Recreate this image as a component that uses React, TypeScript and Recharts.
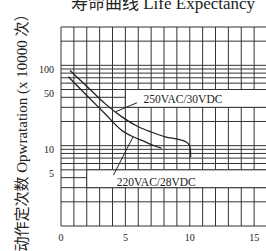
import { LineChart, Line, XAxis, YAxis, CartesianGrid, ReferenceArea } from "recharts";

const xTicks = [0, 1, 2, 3, 4, 5, 6, 7, 8, 9, 10, 11, 12, 13, 14, 15, 16];
const xLabels = [0, 5, 10, 15];
const yTicks = [1, 2, 3, 4, 5, 6, 7, 8, 9, 10, 20, 30, 40, 50, 60, 70, 80, 90, 100, 200, 300];
const yLabels = [5, 10, 50, 100];

// 250VAC/30VDC curve
const curve250 = [
  { x: 0.7, v: 86 },
  { x: 2.1, v: 53 },
  { x: 3.4, v: 33.6 },
  { x: 4.7, v: 23 },
  { x: 6, v: 17.2 },
  { x: 7, v: 14.8 },
  { x: 8.1, v: 12.9 },
  { x: 9.2, v: 11.9 },
  { x: 9.7, v: 11.2 },
  { x: 9.95, v: 10.2 },
  { x: 10.05, v: 8.8 },
  { x: 10.07, v: 7.2 },
];

// 220VAC/28VDC curve
const curve220 = [
  { x: 0.57, v: 72 },
  { x: 2.1, v: 40.6 },
  { x: 3.4, v: 25.2 },
  { x: 4.7, v: 15.6 },
  { x: 5.6, v: 12.9 },
  { x: 6.5, v: 11.2 },
  { x: 7.3, v: 9.9 },
  { x: 7.8, v: 9.3 },
];

const leader250 = [
  { x: 5.9, v: 34.2 },
  { x: 4.25, v: 26.5 },
];
const leader220 = [
  { x: 4.07, v: 4.3 },
  { x: 5.6, v: 12.9 },
];

const INK = "#222";
const GRID = "#333";
const SERIF = "'Liberation Serif', 'Times New Roman', 'Noto Sans CJK SC', serif";

const XTick = (props: any) => {
  const { x, y, payload } = props;
  if (!xLabels.includes(payload.value)) return null;
  return (
    <text x={x} y={y} dy="0.71em" textAnchor="middle" fontSize={10} fontFamily={SERIF} fill={INK}>
      {payload.value}
    </text>
  );
};

const YTick = (props: any) => {
  const { y, payload } = props;
  if (!yLabels.includes(payload.value)) return null;
  return (
    <text x={54} y={y + 4} dy="0.35em" textAnchor="end" fontSize={10} fontFamily={SERIF} fill={INK}>
      {payload.value}
    </text>
  );
};

export default function App() {
  return (
    <div style={{ position: "absolute", left: 0, top: 0, width: 266, height: 251, overflow: "hidden", background: "#fff" }}>
      <LineChart width={267} height={251} margin={{ top: 27, right: 0, bottom: 0, left: 0 }}>
        <CartesianGrid stroke={GRID} strokeWidth={1} />
        <XAxis
          dataKey="x"
          type="number"
          domain={[0, 16]}
          ticks={xTicks}
          interval={0}
          axisLine={false}
          tickLine={false}
          tickSize={0}
          tickMargin={8}
          height={25}
          tick={<XTick />}
          allowDataOverflow
        />
        <YAxis
          type="number"
          scale="log"
          domain={[1, 300]}
          ticks={yTicks}
          interval={0}
          axisLine={false}
          tickLine={false}
          width={61}
          tick={<YTick />}
          allowDataOverflow
        />
        <ReferenceArea
          x1={5}
          x2={16}
          y1={30}
          y2={50}
          fill="#fff"
          fillOpacity={1}
          stroke={GRID}
          strokeWidth={1}
          ifOverflow="visible"
          label={{ value: "250VAC/30VDC", position: "insideLeft", offset: 18, fill: INK, fontSize: 11.5, fontFamily: SERIF }}
        />
        <ReferenceArea
          x1={2}
          x2={16}
          y1={3}
          y2={5}
          fill="#fff"
          fillOpacity={1}
          stroke={GRID}
          strokeWidth={1}
          ifOverflow="visible"
          label={{ value: "220VAC/28VDC", position: "insideLeft", offset: 30, fill: INK, fontSize: 11.5, fontFamily: SERIF, dy: 3 }}
        />
        <Line data={curve250} dataKey="v" type="monotone" stroke={INK} strokeWidth={1.3} dot={false} isAnimationActive={false} />
        <Line data={curve220} dataKey="v" type="monotone" stroke={INK} strokeWidth={1.3} dot={false} isAnimationActive={false} />
        <Line data={leader250} dataKey="v" type="linear" stroke={INK} strokeWidth={1} dot={false} isAnimationActive={false} />
        <Line data={leader220} dataKey="v" type="linear" stroke={INK} strokeWidth={1} dot={false} isAnimationActive={false} />
      </LineChart>
      <svg width={266} height={251} style={{ position: "absolute", left: 0, top: 0, pointerEvents: "none" }}>
        <text x={163} y={9} textAnchor="middle" fontSize={17} fontFamily={SERIF} fill={INK}>
          寿命曲线 Life Expectancy
        </text>
        <text
          x={22}
          y={129}
          textAnchor="middle"
          dominantBaseline="central"
          fontSize={15}
          fontFamily={SERIF}
          fill={INK}
          transform="rotate(-90, 22, 129)"
        >
          动作定次数 Opwratation (x 10000 次）
        </text>
      </svg>
    </div>
  );
}
